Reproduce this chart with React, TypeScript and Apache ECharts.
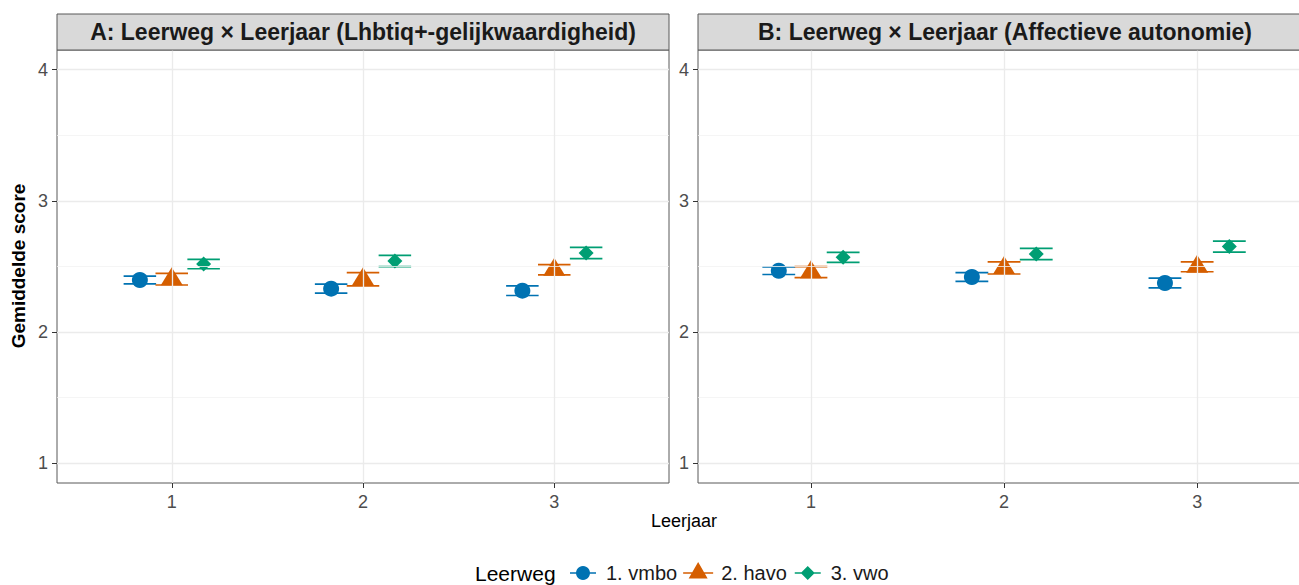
import React, { useEffect, useRef } from 'react';
import * as echarts from 'echarts';

// ---- data ----
const leerjaren = [1, 2, 3];
const leerwegen = ['1. vmbo', '2. havo', '3. vwo'];
const panelTitels = [
  'A: Leerweg × Leerjaar (Lhbtiq+-gelijkwaardigheid)',
  'B: Leerweg × Leerjaar (Affectieve autonomie)',
];
const yTicks = [1, 2, 3, 4];
const yMinor = [1.5, 2.5, 3.5];

// Panel A: means and half-widths of the error bars
const gemA_vmbo = [2.397, 2.331, 2.316];
const gemA_havo = [2.403, 2.403, 2.475];
const gemA_vwo = [2.519, 2.542, 2.603];
const ciA_vmbo = [0.03, 0.034, 0.037];
const ciA_havo = [0.044, 0.05, 0.039];
const ciA_vwo = [0.036, 0.043, 0.043];

// Panel B
const gemB_vmbo = [2.468, 2.42, 2.374];
const gemB_havo = [2.457, 2.489, 2.498];
const gemB_vwo = [2.57, 2.595, 2.652];
const ciB_vmbo = [0.029, 0.034, 0.037];
const ciB_havo = [0.042, 0.046, 0.038];
const ciB_vwo = [0.038, 0.043, 0.042];

// ---- styling ----
const FONT = '"Liberation Sans", Arial, sans-serif';
const kleuren = ['#0072B2', '#D55E00', '#009E73'];
const dodge = [-1 / 6, 0, 1 / 6];
const CAP_HALF = 0.085;
const grids = [
  { left: 57, top: 50, width: 612, height: 433 },
  { left: 698, top: 50, width: 615, height: 433 },
];
const xMins = [0.4, 0.415];
const PAD = 'M0,0h0.01v0.01h-0.01Z M29.99,21.99h0.01v0.01h-0.01Z ';
const legendIcons = [
  'path://' + PAD + 'M2,10.2H28V11.8H2Z M15,4A7,7 0 1 1 14.99,4Z',
  'path://' + PAD + 'M0,10.2H30V11.8H0Z M15,0L24.5,16.5H5.5Z',
  'path://' + PAD + 'M2,10.2H28V11.8H2Z M15,4L22,11L15,18L8,11Z',
];
const symbols: any[] = [
  { symbol: 'circle', symbolSize: 16, symbolOffset: [0, 0] },
  { symbol: 'triangle', symbolSize: [22, 18], symbolOffset: [0, -3] },
  { symbol: 'diamond', symbolSize: 15, symbolOffset: [0, 0] },
];

const panelData = [
  { gem: [gemA_vmbo, gemA_havo, gemA_vwo], ci: [ciA_vmbo, ciA_havo, ciA_vwo] },
  { gem: [gemB_vmbo, gemB_havo, gemB_vwo], ci: [ciB_vmbo, ciB_havo, ciB_vwo] },
];

function buildOption(): any {
  const series: any[] = [];
  panelData.forEach((p, pi) => {
    // grid lines
    series.push({
      type: 'line',
      xAxisIndex: pi,
      yAxisIndex: pi,
      data: [],
      silent: true,
      z: 1,
      markLine: {
        silent: true,
        symbol: ['none', 'none'],
        label: { show: false },
        animation: false,
        data: [
          ...yMinor.map((v) => ({ yAxis: v, lineStyle: { color: '#F2F2F2', width: 0.8, type: 'solid' } })),
          ...yTicks.map((v) => ({ yAxis: v, lineStyle: { color: '#EBEBEB', width: 1.3, type: 'solid' } })),
          ...leerjaren.map((v) => ({ xAxis: v, lineStyle: { color: '#EBEBEB', width: 1.3, type: 'solid' } })),
        ],
      },
    });
    leerwegen.forEach((naam, g) => {
      const kleur = kleuren[g];
      const rows = leerjaren.map((j, k) => [
        j + dodge[g],
        p.gem[g][k],
        p.gem[g][k] - p.ci[g][k],
        p.gem[g][k] + p.ci[g][k],
      ]);
      series.push({
        type: 'custom',
        name: naam,
        xAxisIndex: pi,
        yAxisIndex: pi,
        z: 2,
        silent: true,
        encode: { x: 0, y: 1 },
        data: rows,
        renderItem: (params: any, api: any) => {
          const x = api.value(0);
          const lo = api.coord([x, api.value(2)]);
          const hi = api.coord([x, api.value(3)]);
          const hw = api.size([CAP_HALF, 0])[0];
          const st = { stroke: kleur, lineWidth: 1.7, fill: 'none' };
          return {
            type: 'group',
            children: [
              { type: 'line', shape: { x1: lo[0] - hw, y1: lo[1], x2: lo[0] + hw, y2: lo[1] }, style: st },
              { type: 'line', shape: { x1: hi[0] - hw, y1: hi[1], x2: hi[0] + hw, y2: hi[1] }, style: st },
              { type: 'line', shape: { x1: lo[0], y1: lo[1], x2: hi[0], y2: hi[1] }, style: st },
            ],
          };
        },
      });
      series.push({
        type: 'scatter',
        name: naam,
        xAxisIndex: pi,
        yAxisIndex: pi,
        z: 3,
        silent: true,
        ...symbols[g],
        itemStyle: { color: kleur, opacity: 1 },
        data: rows.map((r) => [r[0], r[1]]),
      });
    });
  });

  const xAxis = grids.map((_, i) => ({
    type: 'value',
    gridIndex: i,
    min: xMins[i],
    max: 3.6,
    axisLine: { show: false },
    axisTick: { show: true, customValues: leerjaren, length: 5, lineStyle: { color: '#333333', width: 1 } },
    axisLabel: {
      customValues: leerjaren,
      fontSize: 18,
      fontFamily: FONT,
      color: '#4D4D4D',
      margin: 10,
      formatter: (v: number) => (Number.isInteger(v) ? String(v) : ''),
    },
    splitLine: { show: false },
  }));
  const yAxis = grids.map((_, i) => ({
    type: 'value',
    gridIndex: i,
    min: 0.85,
    max: 4.15,
    axisLine: { show: false },
    axisTick: { show: true, customValues: yTicks, length: 5, lineStyle: { color: '#333333', width: 1 } },
    axisLabel: {
      customValues: yTicks,
      fontSize: 18,
      fontFamily: FONT,
      color: '#4D4D4D',
      margin: 9,
      formatter: (v: number) => (Number.isInteger(v) ? String(v) : ''),
    },
    splitLine: { show: false },
  }));

  const graphic: any[] = [];
  grids.forEach((g, i) => {
    graphic.push({
      type: 'rect',
      shape: { x: g.left, y: 14, width: g.width, height: 36 },
      style: { fill: '#D9D9D9', stroke: '#595959', lineWidth: 1 },
      z: 10,
    });
    graphic.push({
      type: 'text',
      x: i === 0 ? 363 : 1005,
      y: 32,
      style: {
        text: panelTitels[i],
        font: `bold 23px ${FONT}`,
        fill: '#1A1A1A',
        textAlign: 'center',
        textVerticalAlign: 'middle',
      },
      z: 11,
    });
  });
  graphic.push({
    type: 'text',
    x: 18,
    y: 266,
    rotation: Math.PI / 2,
    style: {
      text: 'Gemiddelde score',
      font: `bold 19px ${FONT}`,
      fill: '#000000',
      textAlign: 'center',
      textVerticalAlign: 'middle',
    },
  });
  graphic.push({
    type: 'text',
    x: 684,
    y: 521,
    style: { text: 'Leerjaar', font: `18px ${FONT}`, fill: '#000000', textAlign: 'center', textVerticalAlign: 'middle' },
  });
  graphic.push({
    type: 'text',
    x: 475,
    y: 573,
    style: { text: 'Leerweg', font: `21px ${FONT}`, fill: '#000000', textAlign: 'left', textVerticalAlign: 'middle' },
  });

  return {
    animation: false,
    backgroundColor: '#FFFFFF',
    grid: grids.map((g) => ({
      ...g,
      show: true,
      backgroundColor: '#FFFFFF',
      borderColor: '#595959',
      borderWidth: 1,
      containLabel: false,
    })),
    xAxis,
    yAxis,
    legend: {
      data: leerwegen.map((n, i) => ({ name: n, icon: legendIcons[i], itemStyle: { color: kleuren[i] } })),
      left: 568,
      top: 562,
      padding: 0,
      itemWidth: 30,
      itemHeight: 22,
      itemGap: 6,
      selectedMode: false,
      textStyle: { fontSize: 20, fontFamily: FONT, color: '#1A1A1A', padding: [0, 0, 0, 3] },
    },
    graphic,
    series,
  };
}

export default function App() {
  const ref = useRef<HTMLDivElement>(null);
  useEffect(() => {
    const chart = echarts.init(ref.current!, null, { renderer: 'svg' });
    chart.setOption(buildOption());
    return () => chart.dispose();
  }, []);
  // The chart is slightly wider than the window: panel B runs past the right edge, as in the reference.
  return <div ref={ref} style={{ position: 'fixed', left: 0, top: 0, width: 1320, height: 585 }} />;
}
